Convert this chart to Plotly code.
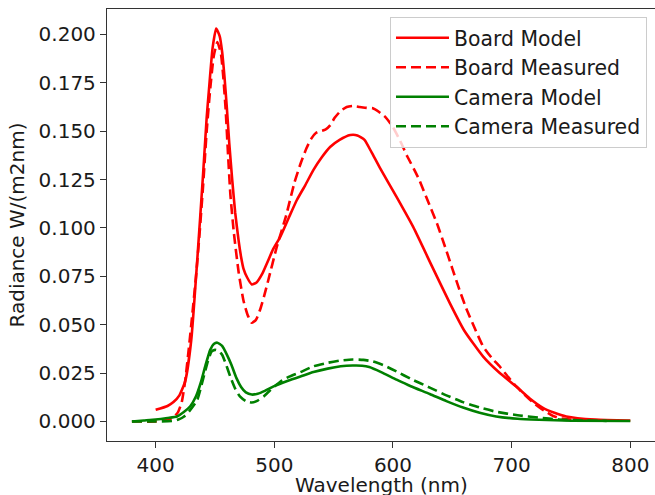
import plotly.graph_objects as go

# ---------------- data ----------------
board_model_wl = [400, 410, 415, 420, 425, 430, 435, 440, 443, 445, 448, 451, 454, 456, 458, 460, 462, 464.5, 467, 470,
                  472, 474, 477, 481, 485, 490, 494, 499, 505, 512, 519, 526, 533, 540, 547, 555, 564, 570, 576, 582,
                  589, 603, 617, 633, 648, 660, 676, 690, 704, 715, 726, 736, 746, 770, 800]
board_model_val = [0.006, 0.008, 0.010, 0.0135, 0.021, 0.042, 0.083, 0.128, 0.157, 0.172, 0.193, 0.203, 0.199, 0.191,
                   0.178, 0.162, 0.144, 0.125, 0.108, 0.093, 0.085, 0.079, 0.0745, 0.0708, 0.0718, 0.0765, 0.082,
                   0.089, 0.0954, 0.105, 0.1144, 0.122, 0.130, 0.1365, 0.1418, 0.1455, 0.148, 0.1478, 0.1455, 0.139,
                   0.131, 0.116, 0.1005, 0.080, 0.061, 0.047, 0.0335, 0.025, 0.018, 0.012, 0.0072, 0.0045, 0.0026,
                   0.001, 0.0005]

board_meas_wl = [380, 400, 410, 415, 419, 422, 425, 428, 431, 434, 437, 440, 443, 446, 449, 452, 455, 457, 459, 461, 463,
                 466, 470, 474, 477.5, 481, 484.5, 488, 491.5, 495, 502, 510, 517, 522, 527, 531, 535, 539, 543, 547,
                 551, 556, 561, 566, 572, 578, 583, 588, 594, 600, 606, 612, 618, 622, 630, 637, 644, 650, 656, 662,
                 669, 676, 683, 690, 697, 704, 711, 718, 724, 729, 735, 742, 750, 780]
board_meas_val = [0.0, 0.0, 0.001, 0.002, 0.005, 0.010, 0.0216, 0.038, 0.056, 0.075, 0.097, 0.122, 0.150, 0.172, 0.189,
                  0.196, 0.190, 0.178, 0.161, 0.138, 0.117, 0.097, 0.0768, 0.0625, 0.055, 0.051, 0.0525, 0.0577,
                  0.065, 0.0732, 0.090, 0.1065, 0.1235, 0.133, 0.141, 0.146, 0.149, 0.150, 0.1508, 0.153, 0.157,
                  0.1605, 0.1625, 0.163, 0.1625, 0.162, 0.1618, 0.160, 0.157, 0.152, 0.145, 0.137, 0.130, 0.125,
                  0.113, 0.1024, 0.090, 0.079, 0.068, 0.058, 0.048, 0.0387, 0.033, 0.0284, 0.023, 0.018, 0.0138,
                  0.0098, 0.007, 0.005, 0.0028, 0.0015, 0.001, 0.0005]

cam_model_wl = [380, 390, 400, 410, 418, 424, 429, 434, 438, 442, 446, 449, 452, 456, 460, 464, 468, 472, 476, 481, 486,
                492, 499, 507, 515, 522, 533, 545, 556, 566, 574, 580, 590, 603, 615, 631, 645, 659, 673, 687, 705,
                723, 750, 800]
cam_model_val = [0.0, 0.0005, 0.001, 0.0018, 0.0026, 0.005, 0.0077, 0.013, 0.020, 0.029, 0.037, 0.040, 0.0407, 0.039,
                 0.0345, 0.029, 0.0225, 0.0178, 0.0150, 0.0139, 0.0143, 0.0158, 0.018, 0.020, 0.0218, 0.0232, 0.0255,
                 0.0273, 0.0285, 0.0289, 0.0288, 0.0281, 0.0255, 0.0216, 0.0182, 0.0142, 0.0105, 0.0072, 0.0045,
                 0.0026, 0.0014, 0.0009, 0.0004, 0.0002]

cam_meas_wl = [380, 400, 415, 420, 424, 428, 435, 440, 444, 447, 450, 453, 456, 459, 463, 467, 471, 476, 481, 486, 491,
               495, 499, 505, 512, 522, 533, 545, 556, 566, 575, 583, 593, 603, 615, 631, 645, 659, 673, 687, 705,
               723, 740, 760, 780]
cam_meas_val = [0.0, 0.0, 0.0003, 0.0012, 0.0026, 0.005, 0.011, 0.022, 0.031, 0.036, 0.037, 0.0365, 0.0345, 0.030,
                0.023, 0.017, 0.0129, 0.0105, 0.0098, 0.0108, 0.0129, 0.0152, 0.0175, 0.0205, 0.0230, 0.0255,
                0.0285, 0.0303, 0.0315, 0.032, 0.0318, 0.031, 0.0288, 0.0258, 0.022, 0.0175, 0.0135, 0.0100,
                0.0072, 0.005, 0.0032, 0.002, 0.001, 0.0005, 0.0003]

x_ticks = [400, 500, 600, 700, 800]
y_ticks = [0.0, 0.025, 0.05, 0.075, 0.1, 0.125, 0.15, 0.175, 0.2]
x_title = "Wavelength (nm)"
y_title = "Radiance W/(m2nm)"

# ---------------- figure ----------------
FONT = "DejaVu Sans"
TXT = "#1a1a1a"
FS = 20
LW = 2.6
DASH = "10px,5px"

series = [
    ("Board Model", board_model_wl, board_model_val, "#ff0000", "solid"),
    ("Board Measured", board_meas_wl, board_meas_val, "#ff0000", DASH),
    ("Camera Model", cam_model_wl, cam_model_val, "#008000", "solid"),
    ("Camera Measured", cam_meas_wl, cam_meas_val, "#008000", DASH),
]

fig = go.Figure()
for name, xs, ys, col, dash in series:
    fig.add_trace(go.Scatter(x=xs, y=ys, mode="lines", name=name,
                             line=dict(color=col, width=LW, dash=dash, shape="spline", smoothing=0.5)))

axis_common = dict(showline=True, linecolor="#333333", linewidth=1.3,
                   ticks="outside", ticklen=6, tickwidth=1.3, tickcolor="#333333",
                   showgrid=False, zeroline=False,
                   tickfont=dict(family=FONT, size=FS, color=TXT))

# x axis mirrored (bottom + top spine); y axis only on the left (right spine lies outside the picture)
fig.update_xaxes(range=[359, 820.8], tickvals=x_ticks, ticktext=[str(v) for v in x_ticks],
                 mirror=True, **axis_common)
fig.update_yaxes(range=[-0.0101, 0.2131], tickvals=y_ticks, ticktext=[f"{v:.3f}" for v in y_ticks],
                 mirror=False,
                 title=dict(text=y_title, font=dict(family=FONT, size=FS, color=TXT), standoff=8),
                 **axis_common)

fig.add_annotation(text=x_title, xref="paper", yref="paper", x=0.5, y=0, xanchor="center", yanchor="middle",
                   yshift=-44, showarrow=False, font=dict(family=FONT, size=FS, color=TXT))

fig.update_layout(
    width=655, height=495,
    margin=dict(l=107, r=0, t=9, b=54, autoexpand=False),
    plot_bgcolor="white", paper_bgcolor="white",
    font=dict(family=FONT, size=FS, color=TXT),
    legend=dict(x=0.9854, y=0.9815, xanchor="right", yanchor="top",
                bgcolor="rgba(255,255,255,0.8)", bordercolor="#cccccc", borderwidth=1,
                font=dict(family=FONT, size=20.4, color=TXT), itemwidth=53,
                tracegroupgap=0),
    showlegend=True,
)

fig.write_html("out.html", config={"displayModeBar": False},
               post_script="document.body.style.margin='0px';")
